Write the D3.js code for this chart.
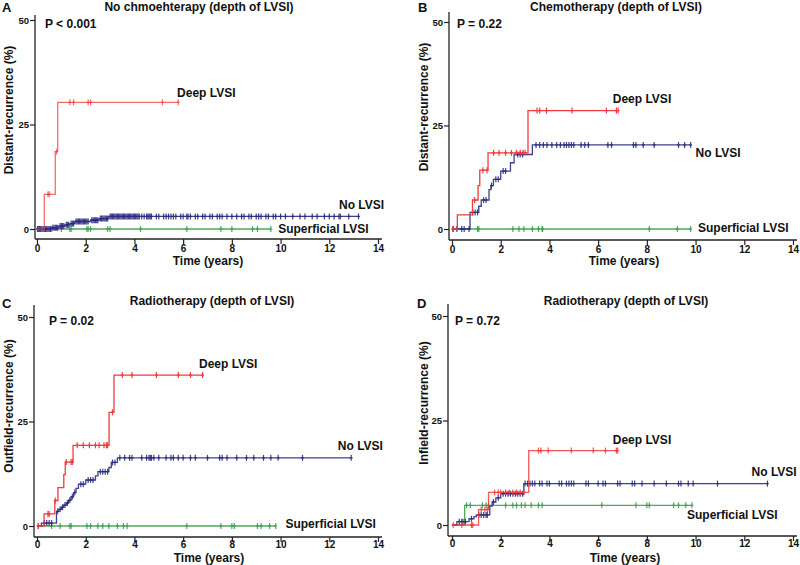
<!DOCTYPE html>
<html>
<head>
<meta charset="utf-8">
<script src="https://cdn.jsdelivr.net/npm/d3@7"></script>
<style>
  body { margin: 0; background: #fff; }
  svg { font-family: Arial, "Liberation Sans", sans-serif; font-weight: bold; }
</style>
</head>
<body>
<svg id="chart" width="800" height="565"></svg>
<script>
const xTicks = [0, 2, 4, 6, 8, 10, 12, 14]
const yTicks = [0, 25, 50]
const groupNames = ["Deep LVSI", "No LVSI", "Superficial LVSI"]
const groupColors = ["#f03c3c", "#2b2b80", "#3ca04c"]

const panelLetters = ["A", "B", "C", "D"]
const panelTitles = ["No chmoehterapy (depth of LVSI)", "Chemotherapy (depth of LVSI)",
                     "Radiotherapy (depth of LVSI)", "Radiotherapy (depth of LVSI)"]
const panelYLabels = ["Distant-recurrence (%)", "Distant-recurrence (%)",
                      "Outfield-recurrence (%)", "Infield-recurrence (%)"]
const panelPValues = ["P < 0.001", "P = 0.22", "P = 0.02", "P = 0.72"]

// ---- Panel A: step points [time, %] and censor times
const aDeepSteps = [[0, 0], [0.3, 8.3], [0.75, 18.5], [0.85, 30.3], [5.8, 30.3]]
const aDeepCensor = [0.45, 0.5, 0.8, 1.35, 1.5, 2.1, 2.2, 5.15, 5.8]
const aNoSteps = [[0, 0], [0.6, 0.3], [0.9, 0.7], [1.15, 1.0], [1.35, 1.3], [1.55, 1.8],
                  [2.2, 2.1], [2.55, 2.5], [2.95, 3.0], [13.2, 3.0]]
const aNoCensor = [0.02, 0.05, 0.1, 0.15, 0.2, 0.25, 0.3, 0.35, 0.4, 0.45, 0.5, 0.55, 0.65, 0.7,
                   0.75, 0.8, 0.85, 0.95, 1.0, 1.05, 1.1, 1.2, 1.25, 1.3, 1.4, 1.45, 1.5, 1.6, 1.65,
                   1.7, 1.75, 1.8, 1.85, 1.9, 1.95, 2.0, 2.05, 2.1, 2.25, 2.3, 2.35, 2.4, 2.45, 2.5,
                   2.6, 2.65, 2.7, 2.75, 2.8, 2.85, 2.9, 3.0, 3.05, 3.1, 3.15, 3.2, 3.25, 3.3, 3.35,
                   3.4, 3.45, 3.5, 3.55, 3.6, 3.65, 3.7, 3.75, 3.8, 3.85, 3.9, 3.95, 4.0, 4.05, 4.1,
                   4.15, 4.2, 4.3, 4.4, 4.5, 4.55, 4.6, 4.65, 4.7, 4.9, 5.0, 5.2, 5.3, 5.4, 5.5,
                   5.6, 5.7, 5.9, 6.0, 6.15, 6.2, 6.3, 6.5, 6.6, 6.8, 6.9, 7.1, 7.2, 7.4, 7.5, 7.6,
                   7.8, 8.0, 8.2, 8.4, 8.5, 8.7, 8.8, 9.0, 9.1, 9.2, 9.4, 9.5, 9.7, 9.8, 10.0, 10.2,
                   10.5, 10.8, 11.0, 11.3, 11.5, 11.8, 12.0, 12.2, 12.4, 12.45, 12.8, 13.2]
const aSupSteps = [[0, 0], [9.6, 0]]
const aSupCensor = [0.6, 1.0, 1.35, 1.4, 2.05, 2.1, 2.2, 2.9, 3.0, 4.25, 6.15, 7.55, 8.0, 8.85, 9.05, 9.6]

// ---- Panel B
const bDeepSteps = [[0, 0], [0.22, 3.4], [0.84, 7.0], [1.07, 10.5], [1.14, 14.2], [1.48, 18.4],
                    [3.12, 28.6], [6.82, 28.6]]
const bDeepCensor = [0.04, 0.93, 1.27, 1.44, 1.71, 1.93, 2.2, 2.44, 2.64, 2.8, 2.92, 3.0,
                     3.49, 3.6, 3.88, 4.93, 6.34, 6.75, 6.82]
const bNoSteps = [[0, 0], [0.74, 4.0], [1.1, 5.5], [1.2, 7.0], [1.52, 9.5], [1.6, 10.5], [1.7, 12.0],
                  [2.0, 14.0], [2.4, 16.0], [2.55, 18.0], [3.3, 20.3], [9.8, 20.3]]
const bNoCensor = [0.05, 0.2, 0.4, 0.5, 0.7, 0.85, 0.95, 1.05, 1.3, 1.4, 1.62, 1.8, 1.9, 2.1, 2.2,
                   2.7, 2.8, 2.9, 3.45, 3.6, 3.75, 3.9, 4.1, 4.3, 4.45, 4.6, 4.7, 4.8, 4.9, 5.0,
                   5.3, 5.45, 5.6, 6.4, 6.55, 7.45, 7.55, 7.85, 8.3, 9.3, 9.55, 9.8]
const bSupSteps = [[0, 0], [9.8, 0]]
const bSupCensor = [0.05, 1.05, 1.1, 2.5, 2.75, 2.95, 3.3, 3.55, 3.7, 3.72, 8.1, 9.25, 9.8]

// ---- Panel C
const cDeepSteps = [[0, 0], [0.29, 2.9], [0.73, 6.1], [0.86, 9.2], [1.1, 12.3], [1.16, 15.3],
                    [1.48, 19.3], [2.96, 27.2], [3.16, 36.1], [6.8, 36.1]]
const cDeepCensor = [0.05, 0.45, 0.5, 0.75, 1.2, 1.4, 1.45, 1.65, 1.9, 2.15, 2.4, 2.55, 2.75,
                     2.85, 2.9, 3.1, 3.5, 3.9, 4.9, 5.8, 6.3, 6.8]
const cNoSteps = [[0, 0], [0.18, 0.7], [0.8, 3.5], [0.9, 4.0], [1.0, 4.5], [1.1, 5.0], [1.2, 5.5],
                  [1.3, 6.2], [1.4, 7.0], [1.5, 8.0], [1.6, 9.0], [1.7, 10.0], [2.0, 11.0],
                  [2.4, 12.0], [2.5, 13.0], [2.95, 14.0], [3.05, 15.2], [3.3, 16.3], [12.9, 16.3]]
const cNoCensor = [0.3, 0.4, 0.5, 0.6, 0.85, 0.95, 1.05, 1.15, 1.25, 1.35, 1.45, 1.55, 1.8, 1.9,
                   2.1, 2.2, 2.3, 2.6, 2.7, 2.8, 2.9, 3.1, 3.2, 3.4, 3.6, 3.8, 3.9, 4.3, 4.5, 4.6,
                   4.65, 4.7, 4.8, 5.0, 5.3, 5.5, 5.6, 5.8, 6.0, 6.3, 6.5, 7.0, 7.5, 7.6, 7.8, 8.2,
                   8.6, 8.9, 9.3, 9.6, 9.9, 10.9, 12.9]
const cSupSteps = [[0, 0], [9.8, 0]]
const cSupCensor = [0.05, 0.6, 0.95, 1.35, 1.4, 2.05, 2.2, 2.5, 2.7, 2.95, 3.3, 3.55, 3.7, 6.15,
                    7.55, 8.0, 8.1, 9.05, 9.2, 9.55, 9.8]

// ---- Panel D
const dDeepSteps = [[0, 0], [1.09, 3.7], [1.5, 7.8], [3.15, 17.8], [6.8, 17.8]]
const dDeepCensor = [0.05, 0.4, 0.8, 0.85, 1.2, 1.35, 1.45, 1.75, 1.9, 2.0, 2.2, 2.35, 2.5, 2.65,
                     2.8, 2.95, 3.55, 3.65, 3.95, 4.9, 5.8, 6.3, 6.75, 6.8]
const dNoSteps = [[0, 0], [0.2, 0.8], [0.7, 1.5], [0.9, 2.0], [1.0, 2.4], [1.55, 4.5], [1.65, 5.5],
                  [1.8, 6.5], [2.0, 7.5], [2.95, 9.9], [12.95, 9.9]]
const dNoCensor = [0.3, 0.4, 0.45, 0.55, 0.8, 1.1, 1.2, 1.3, 1.4, 1.45, 1.7, 1.9, 2.1, 2.2, 2.3,
                   2.4, 2.5, 2.6, 2.7, 2.8, 2.9, 3.0, 3.1, 3.2, 3.3, 3.4, 3.6, 3.7, 3.9, 4.0, 4.4,
                   4.5, 4.7, 4.8, 4.9, 5.0, 5.5, 5.6, 6.0, 6.2, 6.3, 6.8, 6.9, 7.4, 7.5, 7.8, 8.3,
                   8.8, 9.3, 9.4, 9.7, 9.9, 10.9, 12.95]
const dSupSteps = [[0, 0], [0.52, 4.7], [9.85, 4.7]]
const dSupCensor = [0.6, 0.75, 1.25, 1.4, 1.5, 2.2, 2.5, 2.65, 2.85, 3.0, 3.25, 3.55, 3.7, 6.15,
                    7.55, 8.0, 8.1, 9.1, 9.3, 9.6, 9.85]

// label anchor positions in data units [time, %]
const aLabelPos = [[5.75, 31.5], [12.4, 4.8], [9.9, -1.0]]
const bLabelPos = [[6.6, 30.4], [10.0, 17.4], [10.1, -0.7]]
const cLabelPos = [[6.65, 37.9], [12.35, 18.1], [10.2, -0.5]]
const dLabelPos = [[6.6, 19.3], [12.3, 11.7], [9.65, 1.4]]

// screen frame of each panel
const frames = [
    { axisX: 35, top: 15, bottom: 239, x0: 37, x1: 378, y0: 229, y1: 20, right: 382, tickY: 6, titleX: 199, titleY: 11, letterX: 2, letterY: 12, pX: 45, pY: 28, yLabX: 13, yLabY: 110, xLabX: 208, xLabY: 265 },
    { axisX: 449, top: 12, bottom: 240, x0: 452, x1: 793, y0: 229, y1: 22, right: 797, tickY: 6, titleX: 616, titleY: 11, letterX: 418, letterY: 12, pX: 457, pY: 28, yLabX: 428, yLabY: 107, xLabX: 624, xLabY: 265 },
    { axisX: 34, top: 305, bottom: 537, x0: 37, x1: 378, y0: 526, y1: 317, right: 382, tickY: 4, titleX: 212, titleY: 305, letterX: 2, letterY: 308, pX: 49, pY: 325, yLabX: 13, yLabY: 406, xLabX: 209, xLabY: 562 },
    { axisX: 448, top: 304, bottom: 536, x0: 452, x1: 793, y0: 525, y1: 316, right: 797, tickY: 4, titleX: 626, titleY: 305, letterX: 417, letterY: 308, pX: 455, pY: 325, yLabX: 428, yLabY: 403, xLabX: 625, xLabY: 562 }
]

const panels = [
    { steps: [aDeepSteps, aNoSteps, aSupSteps], censor: [aDeepCensor, aNoCensor, aSupCensor], labels: aLabelPos, redOpacity: 0.75 },
    { steps: [bDeepSteps, bNoSteps, bSupSteps], censor: [bDeepCensor, bNoCensor, bSupCensor], labels: bLabelPos, redOpacity: 1 },
    { steps: [cDeepSteps, cNoSteps, cSupSteps], censor: [cDeepCensor, cNoCensor, cSupCensor], labels: cLabelPos, redOpacity: 1 },
    { steps: [dDeepSteps, dNoSteps, dSupSteps], censor: [dDeepCensor, dNoCensor, dSupCensor], labels: dLabelPos, redOpacity: 0.85 }
]

const svg = d3.select("#chart")

// value of a step curve at time t
function valueAt(steps, t) {
    let v = steps[0][1]
    for (let i = 0; i < steps.length; i++) {
        if (steps[i][0] <= t) v = steps[i][1]
    }
    return v
}

panels.forEach(function(p, i) {
    const f = frames[i]
    const g = svg.append("g")

    var x = d3.scaleLinear().domain([0, 14]).range([f.x0, f.x1])
    var y = d3.scaleLinear().domain([0, 50]).range([f.y0, f.y1])

    // axis lines
    g.append("line").attr("x1", f.axisX).attr("x2", f.axisX).attr("y1", f.top).attr("y2", f.bottom)
        .attr("stroke", "#222").attr("stroke-width", 1.3)
    g.append("line").attr("x1", f.axisX).attr("x2", f.right).attr("y1", f.bottom).attr("y2", f.bottom)
        .attr("stroke", "#222").attr("stroke-width", 1.3)

    // y ticks
    let yAxis = g.append("g")
        .attr("transform", "translate(" + f.axisX + ",0)")
        .call(d3.axisLeft(y).tickValues(yTicks).tickSize(5).tickSizeOuter(0))
    yAxis.select(".domain").remove()
    yAxis.selectAll("line").attr("stroke", "#222").attr("stroke-width", 1.2)
    yAxis.selectAll("text").attr("font-size", 9.5).attr("font-weight", "bold")
        .attr("font-family", "Arial, Liberation Sans").attr("fill", "#111").attr("x", -6)

    // x ticks
    let xAxis = g.append("g")
        .attr("transform", "translate(0," + f.bottom + ")")
        .call(d3.axisBottom(x).tickValues(xTicks).tickSize(5).tickSizeOuter(0))
    xAxis.select(".domain").remove()
    xAxis.selectAll("line").attr("stroke", "#222").attr("stroke-width", 1.2)
    xAxis.selectAll("text").attr("font-size", 10).attr("font-weight", "bold")
        .attr("font-family", "Arial, Liberation Sans").attr("fill", "#111").attr("y", f.tickY)

    // curves, drawn green, navy, red so red sits on top
    const order = [2, 1, 0]
    order.forEach(function(k) {
        let color = groupColors[k]
        let op = k === 0 ? p.redOpacity : 0.9
        g.append("path")
            .datum(p.steps[k])
            .attr("fill", "none")
            .attr("stroke", color)
            .attr("stroke-opacity", op)
            .attr("stroke-width", 1.3)
            .attr("d", d3.line()
                .curve(d3.curveStepAfter)
                .x(function(d) { return x(d[0]) })
                .y(function(d) { return y(d[1]) }))

        let marks = g.append("g").attr("stroke", color).attr("stroke-opacity", op).attr("stroke-width", 1.2)
        p.censor[k].forEach(function(t) {
            let cx = x(t), cy = y(valueAt(p.steps[k], t))
            marks.append("line").attr("x1", cx).attr("x2", cx).attr("y1", cy - 3).attr("y2", cy + 3)
            marks.append("line").attr("x1", cx - 1.5).attr("x2", cx + 1.5).attr("y1", cy).attr("y2", cy)
        })

        g.append("text")
            .attr("x", x(p.labels[k][0]))
            .attr("y", y(p.labels[k][1]))
            .attr("font-size", 12)
            .attr("fill", "#111")
            .text(groupNames[k])
    })

    // texts
    g.append("text").attr("x", f.titleX).attr("y", f.titleY).attr("text-anchor", "middle")
        .attr("font-size", 12).attr("fill", "#111").text(panelTitles[i])
    g.append("text").attr("x", f.letterX).attr("y", f.letterY)
        .attr("font-size", 13).attr("fill", "#111").text(panelLetters[i])
    g.append("text").attr("x", f.pX).attr("y", f.pY)
        .attr("font-size", 12).attr("fill", "#111").text(panelPValues[i])
    g.append("text")
        .attr("transform", "translate(" + f.yLabX + "," + f.yLabY + ") rotate(-90)")
        .attr("text-anchor", "middle").attr("font-size", 12).attr("fill", "#111")
        .text(panelYLabels[i])
    g.append("text").attr("x", f.xLabX).attr("y", f.xLabY).attr("text-anchor", "middle")
        .attr("font-size", 12).attr("fill", "#111").text("Time (years)")
})
</script>
</body>
</html>
